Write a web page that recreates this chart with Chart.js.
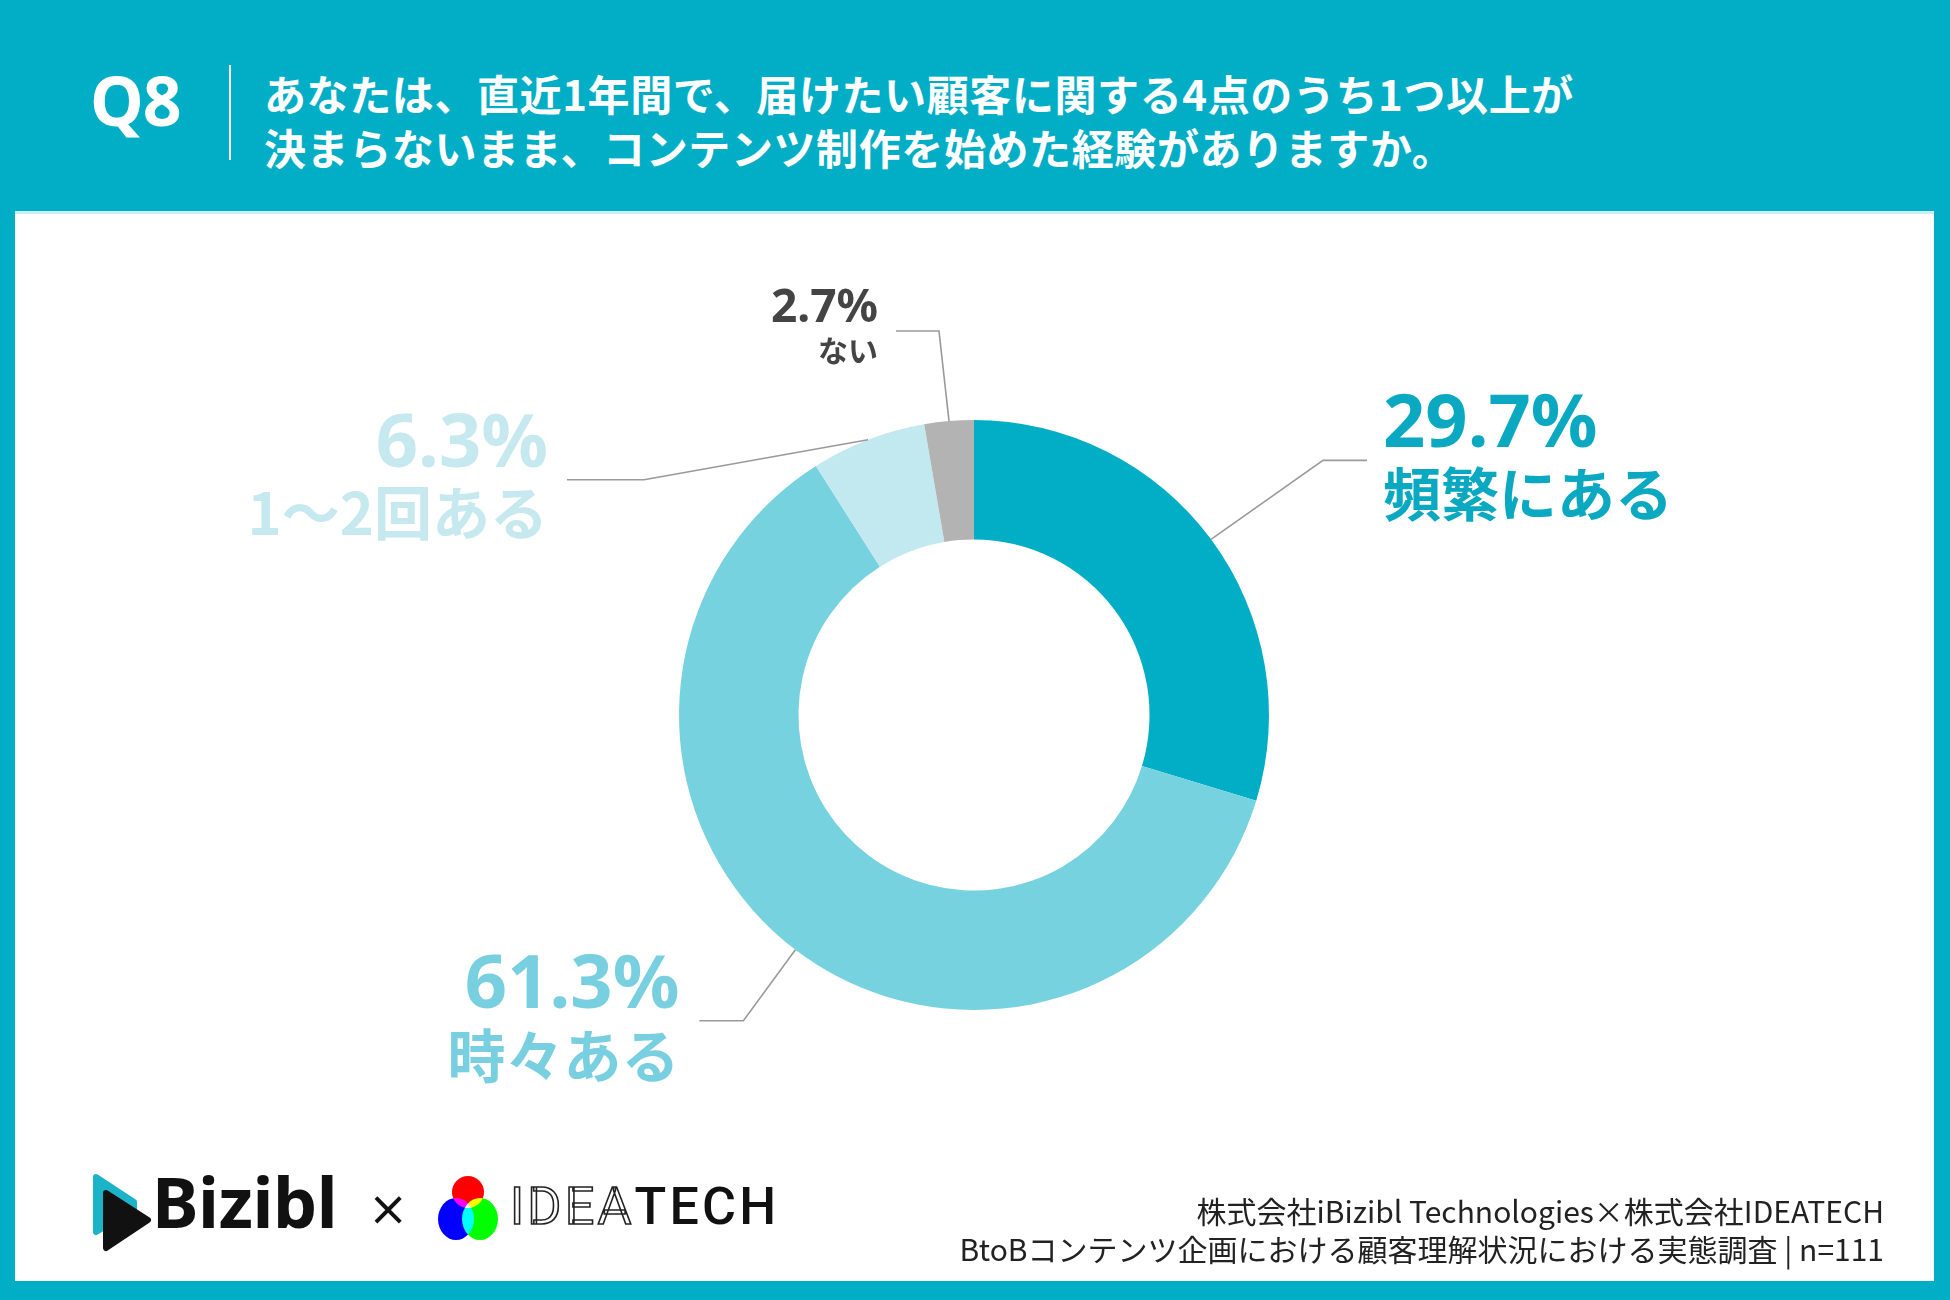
<!DOCTYPE html>
<html lang="ja">
<head>
<meta charset="utf-8">
<title>Q8</title>
<script src="https://cdn.jsdelivr.net/npm/chart.js@4.4.1/dist/chart.umd.min.js"></script>
<style>
  html, body { margin: 0; padding: 0; }
  body {
    width: 1950px; height: 1300px; position: relative; overflow: hidden;
    background: #02aec6;
    font-family: "Noto Sans CJK JP", "Noto Sans", sans-serif;
  }
  #q { position: absolute; left: 90px; top: 66px; color: #fff; font: 700 68px/1 "Noto Sans", "Noto Sans CJK JP", sans-serif; letter-spacing: -1px; }
  #bar { position: absolute; left: 229px; top: 65px; width: 2px; height: 95px; background: #fff; }
  #title { position: absolute; left: 264px; top: 66px; color: #fff; font-weight: 700; font-size: 42px; line-height: 54px; letter-spacing: 0.6px; }
  #panel { position: absolute; left: 15px; top: 211px; width: 1919px; height: 1070px; background: #fff; border-top: 3px solid #c9eef4; box-sizing: border-box; }
  #chart { position: absolute; left: 15px; top: 211px; }
  #source { position: absolute; right: 66px; top: 1191px; text-align: right; color: #222; font-size: 30px; line-height: 38px; font-weight: 400; }
  #bizibl { position: absolute; left: 92px; top: 1170px; height: 82px; }
  #bizibl svg { position: absolute; left: 0; top: 4px; }
  #bizibl .word { position: absolute; left: 60px; top: -4px; font: 700 70px/1 "Noto Sans", sans-serif; color: #111; letter-spacing: -0.5px; white-space: nowrap; }
  #cross { position: absolute; left: 368px; top: 1184px; font: 400 48px/1 "DejaVu Sans", sans-serif; color: #111; }
  #rgb { position: absolute; left: 436px; top: 1176px; width: 64px; height: 66px; isolation: isolate; }
  #rgb div { position: absolute; border-radius: 50%; mix-blend-mode: screen; }
  #ideatech { position: absolute; left: 510px; top: 1181px; font: 400 52px/1 Roboto, sans-serif; letter-spacing: 3.2px; white-space: nowrap; }
  #ideatech .o { color: transparent; -webkit-text-stroke: 1.6px #222; }
  #ideatech .s { color: #111; font-weight: 500; }
</style>
</head>
<body>
<div id="q">Q8</div>
<div id="bar"></div>
<div id="title">あなたは、直近1年間で、届けたい顧客に関する4点のうち1つ以上が<br>決まらないまま、コンテンツ制作を始めた経験がありますか。</div>
<div id="panel"></div>
<canvas id="chart" width="1919" height="1070"></canvas>

<div id="bizibl">
  <svg width="64" height="78" viewBox="0 0 64 78">
    <path d="M4 3 L42 28 L42 36 L4 58 Z" fill="#1bb3c8" stroke="#1bb3c8" stroke-width="6" stroke-linejoin="round"/>
    <path d="M14 19 L56 46 L14 74 Z" fill="#111" stroke="#111" stroke-width="6" stroke-linejoin="round"/>
  </svg>
  <span class="word">Bizibl</span>
</div>
<div id="cross">×</div>
<div id="rgb">
  <div style="left:16px;top:0;width:32px;height:32px;background:#ff0000;"></div>
  <div style="left:2px;top:22px;width:36px;height:42px;background:#0000ff;"></div>
  <div style="left:26px;top:22px;width:36px;height:42px;background:#00ff00;"></div>
</div>
<div id="ideatech"><span class="o">IDEA</span><span class="s">TECH</span></div>

<div id="source">株式会社iBizibl Technologies×株式会社IDEATECH<br>BtoBコンテンツ企画における顧客理解状況における実態調査 | n=111</div>

<script>
// 回答データ
var categories = ["頻繁にある", "時々ある", "1〜2回ある", "ない"];
var percents = [29.7, 61.3, 6.3, 2.7];

// 見た目
var sliceColors = ["#02aec6", "#77d2e0", "#c3e9f0", "#b3b3b3"];
var textColors = ["#0aa9c1", "#78cfdf", "#c6e8ef", "#444444"];
// 引き出し線: 折れ点(円弧からのずれ)、水平線の長さ、文字の位置
var callouts = [
  { elbow: [112, -79], run: 44, gap: 16, up: 34, down: 34, big: true },
  { elbow: [-52, 71], run: -44, gap: -20, up: 34, down: 35, big: true },
  { elbow: [-224, 40], run: -77, gap: -19, up: 34, down: 33, big: true },
  { elbow: [-10, -90], run: -43, gap: -18, up: 22, down: 20, big: false },
];

var calloutPlugin = {
  id: "callouts",
  afterDraw: function (chart) {
    var ctx = chart.ctx;
    var arcs = chart.getDatasetMeta(0).data;
    arcs.forEach(function (arc, i) {
      var p = arc.getProps(["x", "y", "startAngle", "endAngle", "outerRadius"], true);
      var mid = (p.startAngle + p.endAngle) / 2;
      var sx = p.x + Math.cos(mid) * p.outerRadius;
      var sy = p.y + Math.sin(mid) * p.outerRadius;
      var c = callouts[i];
      var ex = sx + c.elbow[0], ey = sy + c.elbow[1];
      var tx = ex + c.run;

      ctx.save();
      ctx.strokeStyle = "#9a9a9a";
      ctx.lineWidth = 1.6;
      ctx.beginPath();
      ctx.moveTo(sx, sy);
      ctx.lineTo(ex, ey);
      ctx.lineTo(tx, ey);
      ctx.stroke();

      var x = tx + c.gap;
      ctx.textAlign = c.gap > 0 ? "left" : "right";
      ctx.textBaseline = "middle";
      ctx.fillStyle = textColors[i];
      ctx.font = (c.big ? "700 74px" : "700 46px") + " 'Noto Sans', 'Noto Sans CJK JP', sans-serif";
      ctx.fillText(percents[i].toFixed(1) + "%", x, ey - c.up);
      ctx.font = (c.big ? "700 58px" : "700 30px") + " 'Noto Sans CJK JP', sans-serif";
      ctx.fillText(categories[i], x, ey + c.down);
      ctx.restore();
    });
  },
};

document.fonts.load("700 40px 'Noto Sans CJK JP'").then(function () {
  new Chart(document.getElementById("chart"), {
    type: "doughnut",
    data: {
      labels: categories,
      datasets: [{
        data: percents,
        backgroundColor: sliceColors,
        borderWidth: 0,
      }],
    },
    options: {
      responsive: false,
      animation: false,
      cutout: "59.5%",
      layout: { padding: { left: 664, right: 665, top: 209, bottom: 271 } },
      plugins: { legend: { display: false }, tooltip: { enabled: false } },
    },
    plugins: [calloutPlugin],
  });
});
</script>
</body>
</html>
